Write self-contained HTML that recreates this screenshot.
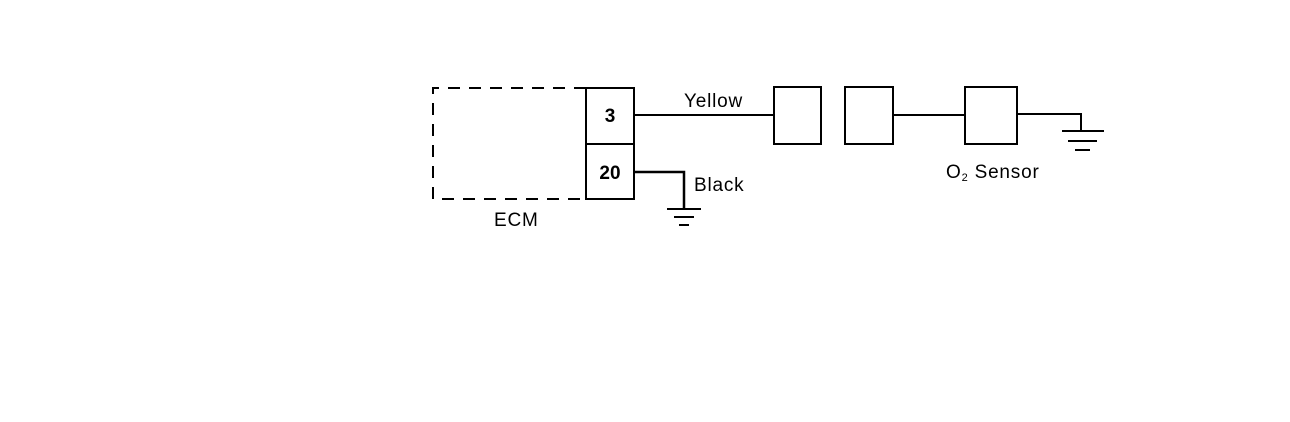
<!DOCTYPE html><html><head><style>body{margin:0;background:#fff}svg{display:block}</style></head><body>
<svg width="1290" height="422" xmlns="http://www.w3.org/2000/svg" font-family="Liberation Sans, sans-serif" fill="none" stroke="#000">
<path d="M586 88 H433 V199 H586" stroke-width="2" stroke-dasharray="12,9"/>
<rect x="586" y="88" width="48" height="111" stroke-width="2"/>
<line x1="586" y1="144" x2="634" y2="144" stroke-width="2"/>
<line x1="634" y1="115" x2="774" y2="115" stroke-width="2"/>
<rect x="774" y="87" width="47" height="57" stroke-width="2"/>
<rect x="845" y="87" width="48" height="57" stroke-width="2"/>
<line x1="893" y1="115" x2="965" y2="115" stroke-width="2"/>
<rect x="965" y="87" width="52" height="57" stroke-width="2"/>
<path d="M1017 114 H1081 V131" stroke-width="2"/>
<line x1="1062" y1="131" x2="1104" y2="131" stroke-width="2"/>
<line x1="1068" y1="141" x2="1097" y2="141" stroke-width="2"/>
<line x1="1075" y1="150" x2="1090" y2="150" stroke-width="2"/>
<path d="M634 172 H684 V209" stroke-width="2.5"/>
<line x1="667" y1="209" x2="701" y2="209" stroke-width="2"/>
<line x1="674" y1="217" x2="694" y2="217" stroke-width="2"/>
<line x1="679" y1="225" x2="689" y2="225" stroke-width="2"/>
<g fill="#000" stroke="none" font-size="19" letter-spacing="0.8">
<text x="610" y="122" text-anchor="middle" font-weight="bold" letter-spacing="0">3</text>
<text x="610" y="179" text-anchor="middle" font-weight="bold" letter-spacing="0">20</text>
<text x="684" y="107">Yellow</text>
<text x="694" y="191">Black</text>
<text x="494" y="226">ECM</text>
<text x="946" y="178">O<tspan font-size="11" dy="3">2</tspan><tspan dy="-3"> Sensor</tspan></text>
</g>
</svg></body></html>
